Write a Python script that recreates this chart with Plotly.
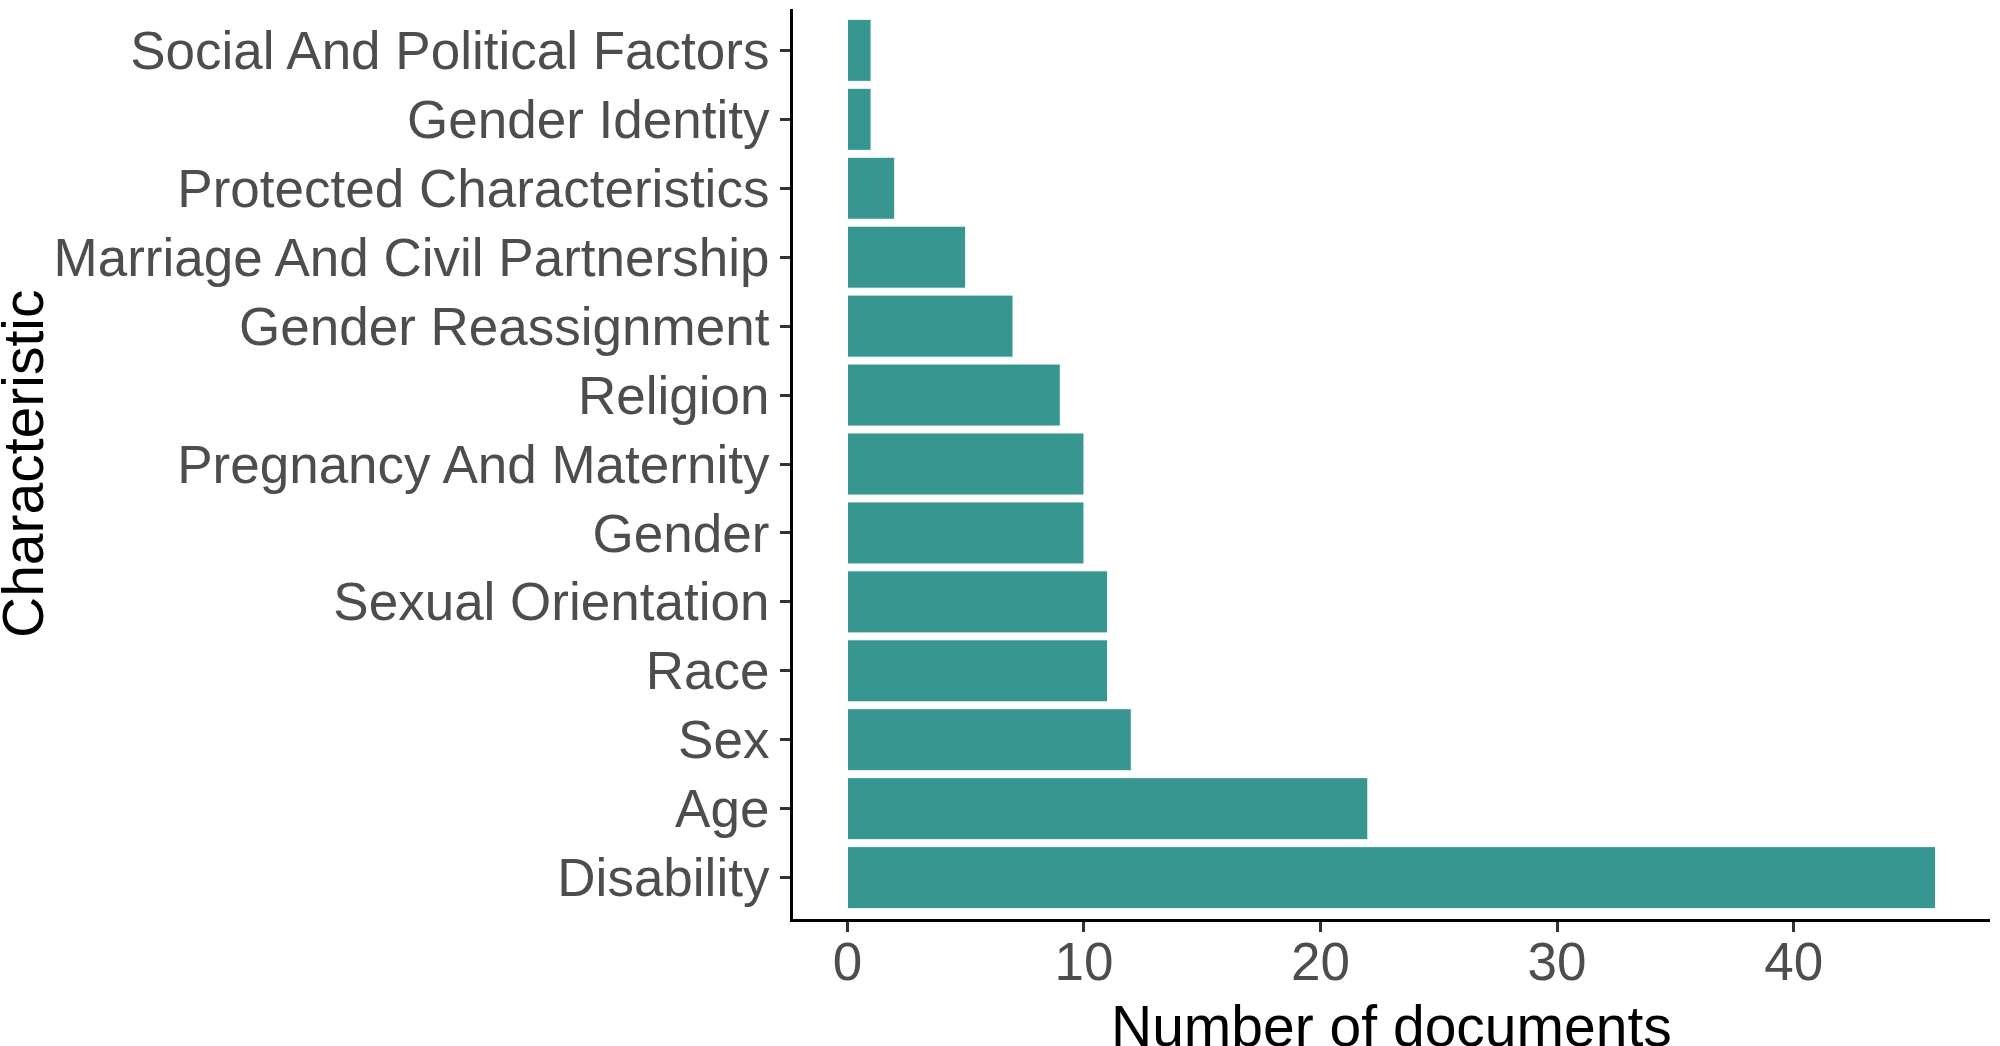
import plotly.graph_objects as go

# Data (top-to-bottom as shown in the reference)
categories = [
    "Social And Political Factors",
    "Gender Identity",
    "Protected Characteristics",
    "Marriage And Civil Partnership",
    "Gender Reassignment",
    "Religion",
    "Pregnancy And Maternity",
    "Gender",
    "Sexual Orientation",
    "Race",
    "Sex",
    "Age",
    "Disability",
]
counts = [1, 1, 2, 5, 7, 9, 10, 10, 11, 11, 12, 22, 46]
x_ticks = [0, 10, 20, 30, 40]

# plot bottom-to-top
cats_bt = categories[::-1]
counts_bt = counts[::-1]

W, H = 2000, 1046
L, R, T, B = 793, 10, 9, 127
pw, ph = W - L - R, H - T - B

fig = go.Figure(
    go.Bar(
        x=counts_bt,
        y=cats_bt,
        orientation="h",
        width=0.9,
        marker=dict(color="#37968F", line=dict(color="white", width=1)),
        hoverinfo="x+y",
    )
)

font_family = "Liberation Sans, Arial, Helvetica, sans-serif"

fig.update_layout(
    width=W,
    height=H,
    margin=dict(l=L, r=R, t=T, b=B, autoexpand=False),
    plot_bgcolor="white",
    paper_bgcolor="white",
    showlegend=False,
    font=dict(family=font_family),
    xaxis=dict(
        range=[-2.3, 48.3],
        tickvals=x_ticks,
        ticktext=[str(v) for v in x_ticks],
        showgrid=False,
        zeroline=False,
        showline=True,
        linecolor="black",
        linewidth=3,
        ticks="outside",
        ticklen=10,
        tickwidth=3,
        tickcolor="#333333",
        ticklabelstandoff=-16,
        tickfont=dict(size=53, color="#4D4D4D", family=font_family),
        fixedrange=True,
    ),
    yaxis=dict(
        type="category",
        categoryorder="array",
        categoryarray=cats_bt,
        range=[-0.6, 12.6],
        showgrid=False,
        zeroline=False,
        showline=True,
        linecolor="black",
        linewidth=3,
        ticks="outside",
        ticklen=10,
        tickwidth=3,
        tickcolor="#333333",
        tickfont=dict(size=53, color="#4D4D4D", family=font_family),
        fixedrange=True,
    ),
    annotations=[
        dict(
            text="Number of documents",
            xref="paper", yref="paper",
            x=0.5, y=-(1026 - (T + ph)) / ph,
            xanchor="center", yanchor="middle",
            showarrow=False,
            font=dict(size=57, color="black", family=font_family),
        ),
        dict(
            text="Characteristic",
            xref="paper", yref="paper",
            x=(23 - L) / pw, y=0.5,
            xanchor="center", yanchor="middle",
            textangle=-90,
            showarrow=False,
            font=dict(size=57, color="black", family=font_family),
        ),
    ],
)

fig.write_html(
    "out.html",
    config={"displayModeBar": False},
    post_script="document.body.style.margin='0';document.body.style.overflow='hidden';",
)
